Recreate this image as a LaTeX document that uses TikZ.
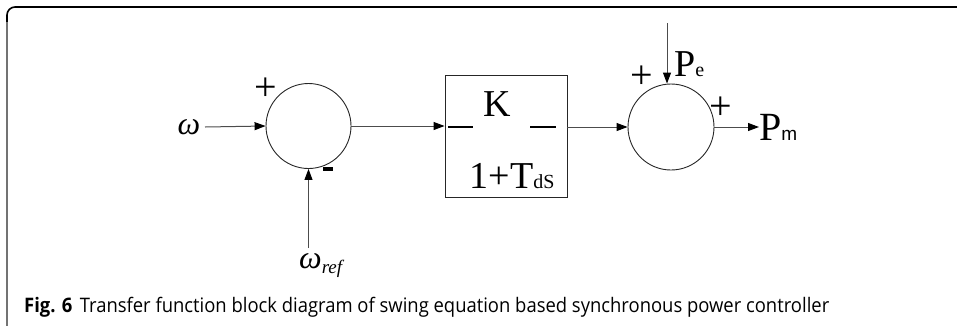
\documentclass[tikz,border=0pt]{standalone}
\usepackage{fontspec}
\setmainfont{Liberation Serif}
\newfontfamily\capfont{Open Sans}
\newfontfamily\arialfont{Liberation Sans}
\usepackage{graphicx}
\usetikzlibrary{arrows.meta,calc}
\tikzset{
  conn/.style={draw=black!70, line width=1, -{Triangle[length=11pt,width=8pt,color=black]}},
  sumc/.style={circle, draw=black!85, line width=0.9, inner sep=0pt},
  tfbox/.style={rectangle, draw=black!85, line width=0.9, inner sep=0pt},
  lbl/.style={inner sep=0pt},
  fracbar/.style={line width=1.8, black},
  sign/.style={inner sep=0pt, font=\fontsize{40}{40}\selectfont},
}
\begin{document}
\begin{tikzpicture}[x=1pt,y=-1pt]
\useasboundingbox (0,0) rectangle (957,325);
% frame
\draw[black, line width=1.6, rounded corners=8] (7,24) -- (7,7) -- (958,7);
\draw[black!55, line width=1.2] (7,22) -- (7,326);

% blocks
\node[sumc, minimum size=85] (s1) at (308.5,126) {};
\node[sumc, minimum size=86] (s2) at (671,127) {};
\node[tfbox, minimum width=122, minimum height=122] (tf) at (506,136) {};

% texts in box
\node[lbl, font=\fontsize{38}{38}\selectfont] (k) at (497,104) {K};
\node[lbl, anchor=base, font=\fontsize{38}{38}\selectfont] (den) at (512,188) {1+T{\fontsize{20}{20}\selectfont dS}};
\draw[fracbar] (448,127) -- (473,127);
\draw[fracbar] (530,127) -- (556,127);

% inputs and outputs
\node[lbl, anchor=base, font=\fontsize{32}{32}\selectfont] (w) at (189,134) {\textit{ω}};
\node[lbl, anchor=base west, font=\fontsize{32}{32}\selectfont] (wr) at (299,268) {\textit{ω}\raisebox{-5pt}{\fontsize{19}{19}\selectfont\textit{ref}}};
\coordinate (wrtop) at (308.5,248);
\coordinate (win) at (205,127);
\coordinate (pe0) at (667,23);
\node[lbl, anchor=base west, font=\fontsize{38}{38}\selectfont] (pe) at (674,76) {P{\fontsize{20}{20}\selectfont e}};
\node[lbl, anchor=base west, font=\fontsize{40}{40}\selectfont] (pm) at (759,140) {P{\arialfont\fontsize{19}{19}\selectfont m}};

% signs
\node[sign] (p1) at (266,89) {+};
\node[lbl, fill=black, minimum width=10, minimum height=3.2] (m1) at (328,169) {};
\node[sign] (p2) at (642,77) {+};
\node[sign] (p3) at (721,108) {+};

% connectors
\draw[conn] (win) -- (s1.west);
\draw[conn] (wrtop) -- (s1.south);
\draw[conn] (s1.east) -- (s1.east -| tf.west);
\draw[conn] (tf.east |- s2.west) -- (s2.west);
\draw[conn] (pe0) -- (pe0 |- s2.north);
\draw[conn] (s2.east) -- (pm.west |- s2.east);

% caption
\node[lbl, anchor=base west] (cap) at (24,312) {\resizebox{805pt}{\height}{\capfont\fontsize{20}{20}\selectfont\textbf{Fig. 6}\hspace{8pt}Transfer function block diagram of swing equation based synchronous power controller}};
\end{tikzpicture}
\end{document}
